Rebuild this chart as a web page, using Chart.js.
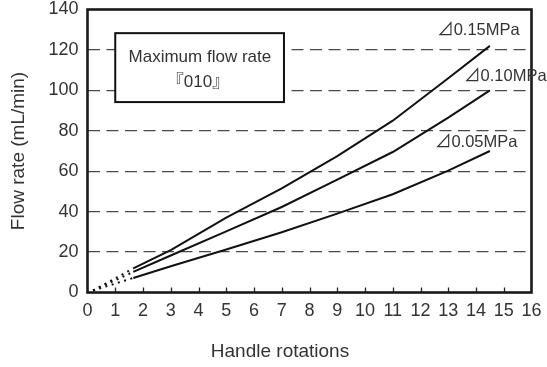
<!DOCTYPE html>
<html><head><meta charset="utf-8">
<script src="https://cdn.jsdelivr.net/npm/chart.js@4/dist/chart.umd.min.js"></script>
<style>html,body{margin:0;padding:0;background:#fff}#wrap{width:547px;height:367px}</style>
</head><body><div id="wrap"><canvas id="c" width="547" height="367"></canvas></div>
<script>
// Handle rotations (x) shared by all series
const rotations = [0.2, 1.65, 3, 5, 7, 9, 11, 13, 14.5];
// Flow rate (mL/min)
const flow015 = [1, 11.9, 21, 37, 51.5, 67.5, 85, 106, 122];
const flow010 = [1, 10.2, 18.3, 30.2, 42.3, 55.8, 69.5, 86.5, 100];
const flow005 = [1, 7.2, 13, 21.3, 29.8, 39, 48.6, 60.3, 70];
const seriesLabels = ['⊿0.15MPa', '⊿0.10MPa', '⊿0.05MPa'];
const xTicks = [1,2,3,4,5,6,7,8,9,10,11,12,13,14,15];
const boxLines = ['Maximum flow rate', '『010』'];
const xTitle = 'Handle rotations';
const yTitle = 'Flow rate (mL/min)';

const FONT = '"Liberation Sans", Arial, "Noto Sans CJK JP", sans-serif';
const TXT = '#333';

function mk(vals){ return rotations.map((x,i)=>({x, y: vals[i]})); }
const dsBase = {
  borderColor:'#111', borderWidth:2, pointRadius:0, tension:0, fill:false,
  segment:{ borderDash: c => c.p0DataIndex === 0 ? [2,4.5] : undefined }
};

const decor = {
  id:'decor',
  afterDatasetsDraw(chart){
    const {ctx, chartArea:a, scales:{x,y}} = chart;
    ctx.save();
    // inner tick marks on x axis
    ctx.strokeStyle = '#222'; ctx.lineWidth = 1.3;
    xTicks.forEach(t => {
      const px = Math.round(x.getPixelForValue(t)) + 0.5;
      ctx.beginPath(); ctx.moveTo(px, a.bottom); ctx.lineTo(px, a.bottom - 5); ctx.stroke();
    });
    // annotation box
    const bx1 = x.getPixelForValue(1.0), bx2 = x.getPixelForValue(7.08);
    const by1 = y.getPixelForValue(128.3), by2 = y.getPixelForValue(94.2);
    ctx.fillStyle = '#fff'; ctx.fillRect(bx1, by1, bx2-bx1, by2-by1);
    ctx.strokeStyle = '#111'; ctx.lineWidth = 2;
    ctx.strokeRect(bx1, by1, bx2-bx1, by2-by1);
    ctx.fillStyle = TXT; ctx.textAlign = 'center'; ctx.textBaseline = 'middle';
    ctx.font = '17px ' + FONT;
    ctx.fillText(boxLines[0], x.getPixelForValue(4.05), y.getPixelForValue(116.3));
    ctx.fillText(boxLines[1], x.getPixelForValue(3.98), y.getPixelForValue(104));
    // frame
    ctx.strokeStyle = '#1a1a1a'; ctx.lineWidth = 2.6;
    ctx.strokeRect(a.left, a.top, a.right-a.left, a.bottom-a.top);
    // series labels
    ctx.font = '16.5px ' + FONT; ctx.textAlign = 'left'; ctx.fillStyle = TXT;
    const pos = [[12.6,129.6],[13.57,107],[12.52,74]];
    seriesLabels.forEach((s,i) => {
      ctx.fillText(s, x.getPixelForValue(pos[i][0]), y.getPixelForValue(pos[i][1]));
    });
    // x axis title
    ctx.font = '19px ' + FONT; ctx.textAlign = 'center';
    ctx.fillText(xTitle, 280, 352);
    ctx.restore();
  }
};

new Chart(document.getElementById('c'), {
  type:'line',
  data:{ datasets:[
    Object.assign({label:seriesLabels[0], data:mk(flow015)}, dsBase),
    Object.assign({label:seriesLabels[1], data:mk(flow010)}, dsBase),
    Object.assign({label:seriesLabels[2], data:mk(flow005)}, dsBase)
  ]},
  options:{
    responsive:false, animation:false, devicePixelRatio:1,
    layout:{ padding:{ left:0, right:15.5, top:9.5, bottom:0 } },
    plugins:{ legend:{display:false}, tooltip:{enabled:false} },
    scales:{
      x:{ type:'linear', min:0, max:16,
        ticks:{ stepSize:1, color:TXT, font:{family:FONT, size:18}, padding:8, maxRotation:0 },
        grid:{ display:false, drawTicks:false }, border:{display:false},
        afterFit: s => { s.height = 74.5; s.paddingLeft = 0; s.paddingRight = 0; }
      },
      y:{ type:'linear', min:0, max:140,
        ticks:{ stepSize:20, color:TXT, font:{family:FONT, size:18}, padding:9 },
        grid:{ drawTicks:false, lineWidth:1.2,
          color: c => (c.tick.value === 0 || c.tick.value === 140) ? 'rgba(0,0,0,0)' : '#4a4a4a' },
        border:{ display:false, dash:[12,6.5] },
        title:{ display:true, text:yTitle, color:TXT, font:{family:FONT, size:19}, padding:{top:7,bottom:0} },
        afterFit: s => { s.width = 87.5; s.paddingTop = 0; s.paddingBottom = 0; }
      }
    }
  },
  plugins:[decor]
});
</script></body></html>
